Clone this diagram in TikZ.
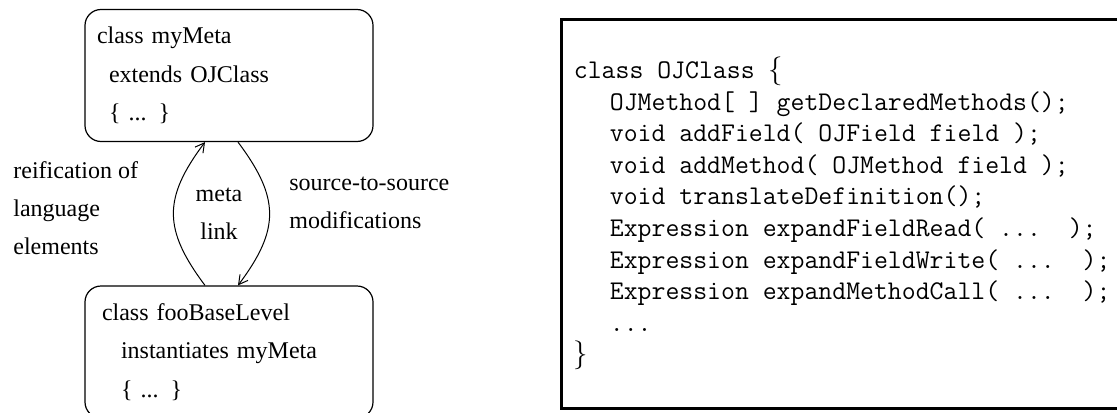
\documentclass[tikz,border=0pt]{standalone}
\usepackage{fontspec}
\setmainfont{Liberation Serif}
\usepackage{tikz}
\usetikzlibrary{positioning, arrows.meta, calc}
\tikzset{
  classbox/.style={
    draw,
    rectangle,
    rounded corners=8pt,
    line width=0.6pt,
    minimum width=144pt,
    minimum height=66pt,
    align=left,
    font=\fontsize{12}{19.3}\selectfont
  },
  label/.style={
    align=left,
    inner sep=0pt,
    font=\fontsize{12}{19}\selectfont
  },
  link/.style={
    line width=0.5pt,
    -{Straight Barb[length=4.5pt, width=5pt]}
  },
  codeframe/.style={
    draw,
    rectangle,
    line width=1.5pt,
    minimum width=284.5pt,
    minimum height=194.5pt
  },
  codetext/.style={
    align=left,
    inner sep=0pt,
    font=\fontsize{13.5}{15.8}\selectfont\ttfamily
  }
}

\begin{document}
\begin{tikzpicture}[x=0.5pt, y=-0.5pt]
        \useasboundingbox (0,0) rectangle (1117,412);

        \node[classbox, inner xsep=6pt, text width=132pt] (metabox) at (229,75.5)
          {class myMeta\\\hspace*{6pt}extends OJClass\\\hspace*{6pt}\{ ... \}};
        \node[classbox, inner xsep=8.5pt, text width=127pt] (basebox) at (229,352)
          {class fooBaseLevel\\\hspace*{9.5pt}instantiates myMeta\\\hspace*{9.5pt}\{ ... \}};

        \node[label, anchor=west] (reify) at (13,208) {reification of\\language\\elements};
        \node[label, align=center, anchor=center] (metalink) at (219,214) {meta\\link};
        \node[label, anchor=west] (srcmod) at (289,203) {source-to-source\\modifications};

        \draw[link] ([xshift=-12pt]basebox.north) .. controls +(-42,-56) and +(-42,56) .. ([xshift=-12pt]metabox.south);
        \draw[link] ([xshift=4.5pt]metabox.south) .. controls +(42,56) and +(42,-56) .. ([xshift=4.5pt]basebox.north);

        \node[codeframe] (codebox) at (845.5,213.5) {};
        \node[codetext, right=7pt of codebox.west] (ojcode)
          {class OJClass $\{$\\
           \hspace*{18pt}OJMethod[ ] getDeclaredMethods();\\
           \hspace*{18pt}void addField( OJField field );\\
           \hspace*{18pt}void addMethod( OJMethod field );\\
           \hspace*{18pt}void translateDefinition();\\
           \hspace*{18pt}Expression expandFieldRead( ...~~);\\
           \hspace*{18pt}Expression expandFieldWrite( ...~~);\\
           \hspace*{18pt}Expression expandMethodCall( ...~~);\\
           \hspace*{18pt}...\\
           $\}$};
      \end{tikzpicture}
\end{document}
